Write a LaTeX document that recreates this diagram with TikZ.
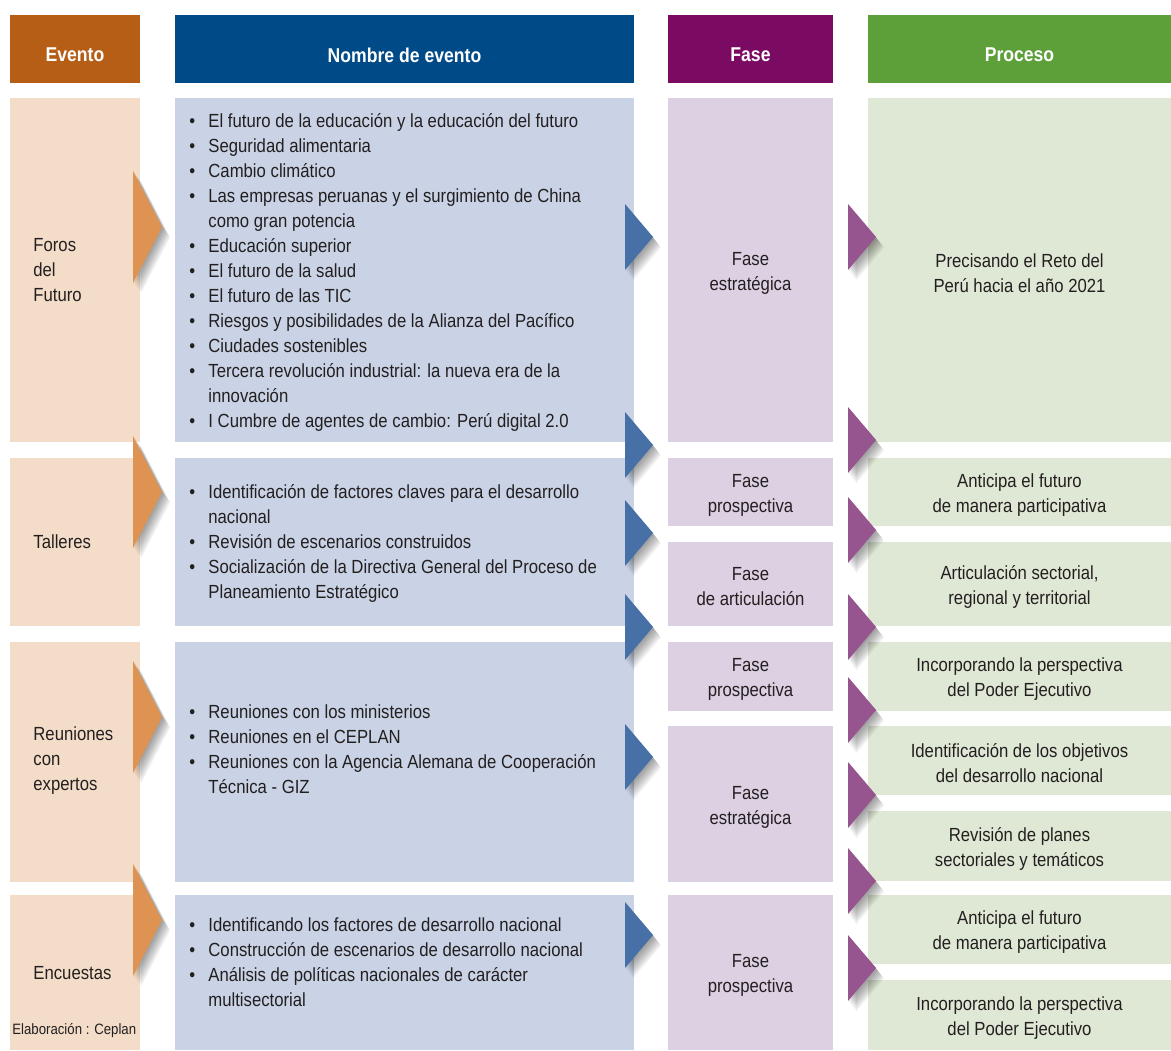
\documentclass[tikz,border=0pt]{standalone}
\usepackage{fontspec}
\setmainfont{Liberation Sans}[FakeStretch=0.88]
\usepackage{tikz}
\usepackage{xcolor}
\usetikzlibrary{fit}
\usetikzlibrary{math}

\definecolor{cabEv}{HTML}{B65E16}
\definecolor{cabNo}{HTML}{004B87}
\definecolor{cabFa}{HTML}{7B0A63}
\definecolor{cabPr}{HTML}{5DA03A}
\definecolor{fonEv}{HTML}{F3DDC8}
\definecolor{fonNo}{HTML}{C9D3E5}
\definecolor{fonFa}{HTML}{DDD0E2}
\definecolor{fonPr}{HTML}{DFE8D5}
\definecolor{flNar}{HTML}{DE9352}
\definecolor{flAzu}{HTML}{4670A6}
\definecolor{flMor}{HTML}{96558E}
\definecolor{tinta}{HTML}{231F20}

\newcommand{\vin}[1]{\makebox[9.5pt][l]{\textbullet}#1}
\newcommand{\sig}[1]{\hspace*{9.5pt}#1}

% flecha con sombra: color, x base, x punta, y punta, media altura
\newcommand{\flecha}[5]{%
  \foreach \s in {1,...,8}{
    \fill[black, opacity=0.055, xshift={\s*0.5pt}, yshift={-\s*0.65pt}]
      (#2,#4-#5) -- (#3,#4) -- (#2,#4+#5) -- cycle;}
  \fill[#1] (#2,#4-#5) -- (#3,#4) -- (#2,#4+#5) -- cycle;
}

\begin{document}
\begin{tikzpicture}[x=0.5pt,y=-0.5pt,
  caja/.style={fill=#1, inner sep=0pt, draw=none},
  cabtxt/.style={text=white, font=\fontsize{10}{12}\selectfont\bfseries},
  texto/.style={text=tinta, font=\fontsize{9.5}{12.5}\selectfont, align=#1, inner sep=0pt},
  centrado/.style={texto=center, yshift=-1.5pt}]

  \useasboundingbox (0,0) rectangle (1171,1050);

  \tikzmath{
    \evA = 10;  \evB = 140;  % columna Evento
    \noA = 175; \noB = 634;  % columna Nombre de evento
    \faA = 668; \faB = 833;  % columna Fase
    \prA = 868; \prB = 1171; % columna Proceso
    \cabA = 15; \cabB = 83;  % fila de cabecera
    \fl   = 33;              % media altura flechas chicas
    \flg  = 56;              % media altura flechas naranjas
  }

  % cabeceras
  \node[caja=cabEv, fit={(\evA,\cabA) (\evB,\cabB)}] (hEv) {};
  \node[caja=cabNo, fit={(\noA,\cabA) (\noB,\cabB)}] (hNo) {};
  \node[caja=cabFa, fit={(\faA,\cabA) (\faB,\cabB)}] (hFa) {};
  \node[caja=cabPr, fit={(\prA,\cabA) (\prB,\cabB)}] (hPr) {};
  \node[cabtxt] (tEv) at ([yshift=-3pt]hEv.center) {Evento};
  \node[cabtxt] (tNo) at ([yshift=-3pt]hNo.center) {Nombre de evento};
  \node[cabtxt] (tFa) at ([yshift=-3pt]hFa.center) {Fase};
  \node[cabtxt] (tPr) at ([yshift=-3pt]hPr.center) {Proceso};

  % columna Evento
  \node[caja=fonEv, fit={(\evA,98) (\evB,442)}]  (ev1) {};
  \node[caja=fonEv, fit={(\evA,458) (\evB,626)}] (ev2) {};
  \node[caja=fonEv, fit={(\evA,642) (\evB,882)}] (ev3) {};
  \node[caja=fonEv, fit={(\evA,895) (\evB,1050)}] (ev4) {};
  \node[texto=left, anchor=west] (tev1) at (33,270) {Foros\\del\\Futuro};
  \node[texto=left, anchor=west] (tev2) at (33,542) {Talleres};
  \node[texto=left, anchor=west] (tev3) at (33,761) {Reuniones\\con\\expertos};
  \node[texto=left, anchor=west] (tev4) at (33,973) {Encuestas};
  \node[text=tinta, font=\fontsize{7.5}{9}\selectfont, inner sep=0pt, anchor=west]
    (fuente) at (12,1031) {Elaboración : Ceplan};

  % columna Nombre de evento
  \node[caja=fonNo, fit={(\noA,98) (\noB,442)}]  (no1) {};
  \node[caja=fonNo, fit={(\noA,458) (\noB,626)}] (no2) {};
  \node[caja=fonNo, fit={(\noA,642) (\noB,882)}] (no3) {};
  \node[caja=fonNo, fit={(\noA,895) (\noB,1050)}] (no4) {};
  \node[texto=left, anchor=west] (tno1) at (189,272) {%
    \vin{El futuro de la educación y la educación del futuro}\\
    \vin{Seguridad alimentaria}\\
    \vin{Cambio climático}\\
    \vin{Las empresas peruanas y el surgimiento de China}\\
    \sig{como gran potencia}\\
    \vin{Educación superior}\\
    \vin{El futuro de la salud}\\
    \vin{El futuro de las TIC}\\
    \vin{Riesgos y posibilidades de la Alianza del Pacífico}\\
    \vin{Ciudades sostenibles}\\
    \vin{Tercera revolución industrial: la nueva era de la}\\
    \sig{innovación}\\
    \vin{I Cumbre de agentes de cambio: Perú digital 2.0}};
  \node[texto=left, anchor=west] (tno2) at (189,543) {%
    \vin{Identificación de factores claves para el desarrollo}\\
    \sig{nacional}\\
    \vin{Revisión de escenarios construidos}\\
    \vin{Socialización de la Directiva General del Proceso de}\\
    \sig{Planeamiento Estratégico}};
  \node[texto=left, anchor=west] (tno3) at (189,749.5) {%
    \vin{Reuniones con los ministerios}\\
    \vin{Reuniones en el CEPLAN}\\
    \vin{Reuniones con la Agencia Alemana de Cooperación}\\
    \sig{Técnica - GIZ}};
  \node[texto=left, anchor=west] (tno4) at (189,962.5) {%
    \vin{Identificando los factores de desarrollo nacional}\\
    \vin{Construcción de escenarios de desarrollo nacional}\\
    \vin{Análisis de políticas nacionales de carácter}\\
    \sig{multisectorial}};

  % columna Fase
  \node[caja=fonFa, fit={(\faA,98) (\faB,442)}]  (fa1) {};
  \node[caja=fonFa, fit={(\faA,458) (\faB,526)}] (fa2) {};
  \node[caja=fonFa, fit={(\faA,542) (\faB,626)}] (fa3) {};
  \node[caja=fonFa, fit={(\faA,642) (\faB,711)}] (fa4) {};
  \node[caja=fonFa, fit={(\faA,726) (\faB,882)}] (fa5) {};
  \node[caja=fonFa, fit={(\faA,895) (\faB,1050)}] (fa6) {};
  \node[centrado] (tfa1) at (fa1.center) {Fase\\estratégica};
  \node[centrado] (tfa2) at (fa2.center) {Fase\\prospectiva};
  \node[centrado] (tfa3) at (fa3.center) {Fase\\de articulación};
  \node[centrado] (tfa4) at (fa4.center) {Fase\\prospectiva};
  \node[centrado] (tfa5) at (fa5.center) {Fase\\estratégica};
  \node[centrado] (tfa6) at (fa6.center) {Fase\\prospectiva};

  % columna Proceso
  \node[caja=fonPr, fit={(\prA,98) (\prB,442)}]  (pr1) {};
  \node[caja=fonPr, fit={(\prA,458) (\prB,526)}] (pr2) {};
  \node[caja=fonPr, fit={(\prA,542) (\prB,626)}] (pr3) {};
  \node[caja=fonPr, fit={(\prA,642) (\prB,711)}] (pr4) {};
  \node[caja=fonPr, fit={(\prA,726) (\prB,795)}] (pr5) {};
  \node[caja=fonPr, fit={(\prA,811) (\prB,881)}] (pr6) {};
  \node[caja=fonPr, fit={(\prA,895) (\prB,964)}] (pr7) {};
  \node[caja=fonPr, fit={(\prA,980) (\prB,1050)}] (pr8) {};
  \node[centrado] (tpr1) at (pr1.center) {Precisando el Reto del\\Perú hacia el año 2021};
  \node[centrado] (tpr2) at (pr2.center) {Anticipa el futuro\\de manera participativa};
  \node[centrado] (tpr3) at (pr3.center) {Articulación sectorial,\\regional y territorial};
  \node[centrado] (tpr4) at (pr4.center) {Incorporando la perspectiva\\del Poder Ejecutivo};
  \node[centrado] (tpr5) at (pr5.center) {Identificación de los objetivos\\del desarrollo nacional};
  \node[centrado] (tpr6) at (pr6.center) {Revisión de planes\\sectoriales y temáticos};
  \node[centrado] (tpr7) at (pr7.center) {Anticipa el futuro\\de manera participativa};
  \node[centrado] (tpr8) at (pr8.center) {Incorporando la perspectiva\\del Poder Ejecutivo};

  % flechas Evento -> Nombre
  \foreach \yt in {227,492,717,920}{
    \flecha{flNar}{133}{162}{\yt}{\flg}}

  % flechas Nombre -> Fase
  \foreach \yt in {237,445,533,627,757,935}{
    \flecha{flAzu}{625}{653}{\yt}{\fl}}

  % flechas Fase -> Proceso
  \foreach \yt in {237,440,530,627,710,795,881,968}{
    \flecha{flMor}{848}{876}{\yt}{\fl}}

\end{tikzpicture}
\end{document}
